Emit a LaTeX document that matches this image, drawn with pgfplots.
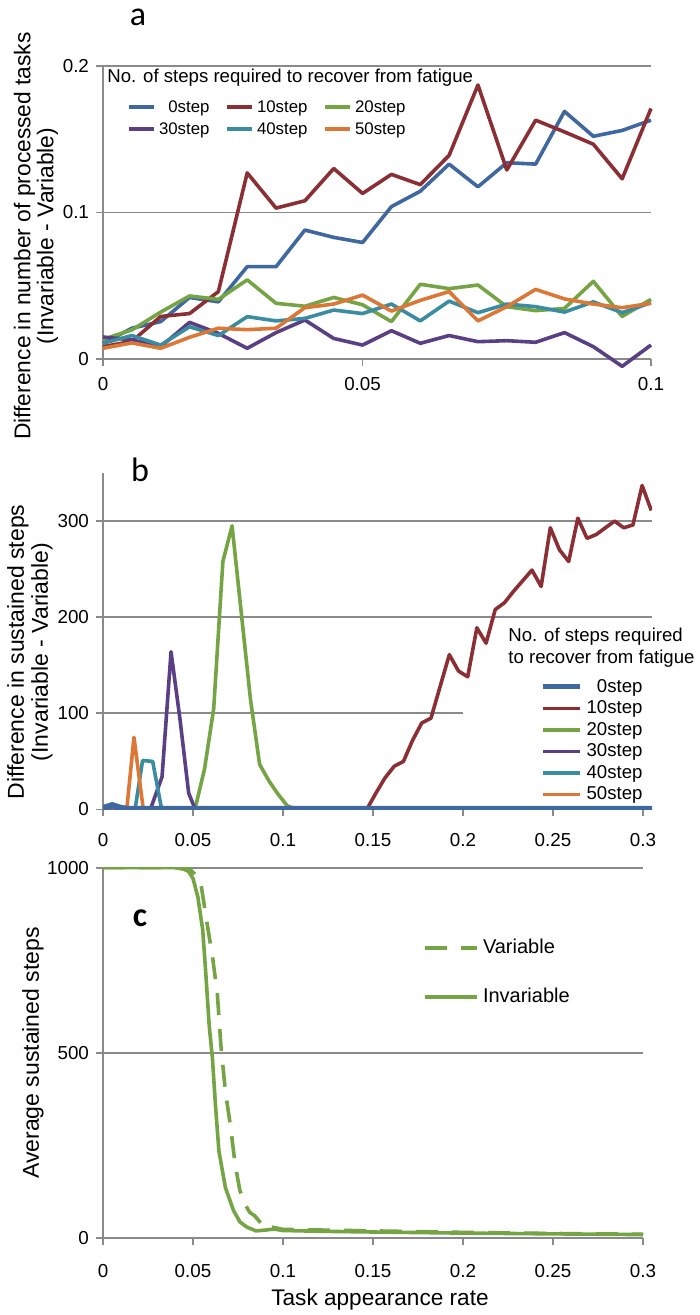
\documentclass[border=0pt]{standalone}
\usepackage{fontspec}
\setmainfont{Liberation Sans}
\newfontfamily\carlito{Carlito}
\usepackage{pgfplots}
\pgfplotsset{compat=1.18}
\definecolor{axgray}{HTML}{8A8A8A}
\definecolor{cA}{HTML}{3F67A0}
\definecolor{cB}{HTML}{8B2F35}
\definecolor{cC}{HTML}{75A444}
\definecolor{cD}{HTML}{5A3F85}
\definecolor{cE}{HTML}{3A8CA0}
\definecolor{cF}{HTML}{DC7736}
\pgfplotsset{
  base/.style={
    scale only axis,
    axis x line*=bottom, axis y line*=left,
    axis line style={-, draw=axgray, line width=0.9pt},
    every tick/.style={draw=axgray, line width=0.9pt},
    major tick length=3.5pt, tick align=outside,
    grid style={draw=axgray, line width=0.9pt},
    ticklabel style={font=\fontsize{9.4}{10}\selectfont, text=black},
    scaled ticks=false,
    /pgf/number format/assume math mode=true,
    legend cell align=right,
  },
  ser/.style={#1, line width=1.8pt, line join=round},
}
\begin{document}
\begin{tikzpicture}
\path[use as bounding box] (0,0) rectangle (350pt,657.5pt);

% ---------------- panel a ----------------
\begin{axis}[base, at={(51.5pt,478pt)}, anchor=south west,
  width=274pt, height=146.5pt,
  xmin=0, xmax=19, ymin=0, ymax=0.2,
  xtick={0,9,19}, xticklabels={0,0.05,0.1},
  ytick={0,0.1,0.2}, yticklabels={0,0.1,0.2},
  xticklabel style={yshift=-2pt},
  ymajorgrids, clip=false,
  legend columns=3,
  legend image code/.code={\draw[#1, line cap=butt] (0pt,0pt) -- (12.5pt,0pt);},
  legend style={at={(0.0438,0.822)}, anchor=west, inner sep=0pt, draw=none, fill=none,
    font=\fontsize{8.4}{10}\selectfont, row sep=0pt,
    nodes={inner sep=0pt, text height=8pt, text depth=2.85pt},
    /tikz/every odd column/.append style={column sep=1.5pt},
    /tikz/every even column/.append style={column sep=8pt}},
]
\addplot[ser=cA] coordinates {(0,0.0107)(1,0.021)(2,0.0255)(3,0.042)(4,0.039)(5,0.063)(6,0.063)(7,0.088)(8,0.083)(9,0.0795)(10,0.104)(11,0.1145)(12,0.133)(13,0.1175)(14,0.134)(15,0.133)(16,0.169)(17,0.152)(18,0.156)(19,0.163)};
\addlegendentry{0step}
\addplot[ser=cB] coordinates {(0,0.0084)(1,0.012)(2,0.029)(3,0.031)(4,0.046)(5,0.127)(6,0.103)(7,0.108)(8,0.130)(9,0.113)(10,0.126)(11,0.119)(12,0.139)(13,0.187)(14,0.129)(15,0.163)(16,0.155)(17,0.1466)(18,0.123)(19,0.171)};
\addlegendentry{10step}
\addplot[ser=cC] coordinates {(0,0.0134)(1,0.0198)(2,0.032)(3,0.043)(4,0.0407)(5,0.054)(6,0.038)(7,0.036)(8,0.042)(9,0.037)(10,0.0255)(11,0.051)(12,0.048)(13,0.0505)(14,0.0357)(15,0.033)(16,0.0345)(17,0.053)(18,0.029)(19,0.0407)};
\addlegendentry{20step}
\addplot[ser=cD] coordinates {(0,0.015)(1,0.013)(2,0.0084)(3,0.025)(4,0.0175)(5,0.0073)(6,0.018)(7,0.0266)(8,0.014)(9,0.0095)(10,0.0193)(11,0.0107)(12,0.016)(13,0.0118)(14,0.0125)(15,0.0114)(16,0.018)(17,0.0084)(18,-0.005)(19,0.0095)};
\addlegendentry{30step}
\addplot[ser=cE] coordinates {(0,0.0107)(1,0.016)(2,0.0095)(3,0.022)(4,0.016)(5,0.0289)(6,0.026)(7,0.0277)(8,0.0334)(9,0.031)(10,0.0375)(11,0.026)(12,0.0395)(13,0.0316)(14,0.0375)(15,0.0357)(16,0.032)(17,0.039)(18,0.0316)(19,0.0384)};
\addlegendentry{40step}
\addplot[ser=cF] coordinates {(0,0.0073)(1,0.011)(2,0.0073)(3,0.0148)(4,0.021)(5,0.020)(6,0.021)(7,0.035)(8,0.0375)(9,0.0436)(10,0.0327)(11,0.040)(12,0.046)(13,0.026)(14,0.0357)(15,0.0475)(16,0.041)(17,0.0375)(18,0.035)(19,0.038)};
\addlegendentry{50step}
\end{axis}
\node[anchor=west, inner sep=0pt, font=\fontsize{9.3}{10}\selectfont] at (53.5pt,618.5pt) {No. of steps required to recover from fatigue};
\node[rotate=90, align=center, font=\fontsize{11.4}{11.5}\selectfont] at (18pt,539.5pt) {Difference in number of processed tasks\\(Invariable - Variable)};
\node[anchor=base, inner sep=0pt, font=\carlito\fontsize{17}{17}\selectfont] at (69pt,644.5pt) {a};

% ---------------- panel b ----------------
\begin{axis}[base, at={(51.5pt,252.75pt)}, anchor=south west,
  width=274.5pt, height=168.25pt,
  xmin=0, xmax=0.305, ymin=0, ymax=350,
  xtick={0,0.05,0.1,0.15,0.2,0.25,0.3}, xticklabels={0,0.05,0.1,0.15,0.2,0.25,0.3},
  ytick={0,100,200,300}, yticklabels={0,100,200,300},
  xticklabel style={yshift=-5pt},
  legend image code/.code={\draw[#1, line cap=butt] (0pt,0pt) -- (18.5pt,0pt);},
  legend style={at={(0.796,0.2048)}, anchor=west, inner sep=0pt, draw=none, fill=none,
    font=\fontsize{9.3}{10}\selectfont, row sep=0pt,
    nodes={inner sep=0pt, text height=8pt, text depth=2.75pt},
    /tikz/every odd column/.append style={column sep=2pt}},
]
\draw[draw=axgray, line width=0.9pt] (axis cs:0,100) -- (axis cs:0.2,100);
\draw[draw=axgray, line width=0.9pt] (axis cs:0,200) -- (axis cs:0.305,200);
\draw[draw=axgray, line width=0.9pt] (axis cs:0,300) -- (axis cs:0.305,300);
\addlegendimage{cA, line width=2.6pt}
\addlegendentry{0step}
\addplot[ser=cB] coordinates {(0,0)(0.1414,0)(0.1465,0)(0.1516,17)(0.1567,33)(0.1618,45)(0.1669,50)(0.172,72)(0.1771,90)(0.1822,95)(0.1873,128)(0.1924,161)(0.1975,144)(0.2026,138)(0.2077,189)(0.2128,173)(0.2179,208)(0.223,215)(0.2281,227)(0.2332,238)(0.2383,249)(0.2434,232)(0.2485,293)(0.2536,270)(0.2587,258)(0.2638,303)(0.2689,282)(0.274,286)(0.2791,293)(0.2842,300)(0.2893,293)(0.2944,296)(0.2995,337)(0.3046,311)};
\addlegendentry{10step}
\addplot[ser=cC] coordinates {(0,0)(0.0462,0)(0.0513,2)(0.0564,42)(0.0615,105)(0.0666,258)(0.0717,295)(0.0768,205)(0.0819,115)(0.087,47)(0.0921,30)(0.0972,16)(0.1023,4)(0.1074,0)(0.3046,0)};
\addlegendentry{20step}
\addplot[ser=cD] coordinates {(0,0)(0.0263,0)(0.0328,34)(0.0378,164)(0.0427,95)(0.0476,17)(0.0513,0)(0.3046,0)};
\addlegendentry{30step}
\addplot[ser=cE] coordinates {(0,0)(0.0178,0)(0.022,51)(0.0276,50)(0.0326,0)(0.3046,0)};
\addlegendentry{40step}
\addplot[ser=cF] coordinates {(0,0)(0.0132,0)(0.0172,75)(0.0224,0)(0.3046,0)};
\addlegendentry{50step}
\addplot[cA, line width=3.5pt, line cap=round, forget plot] coordinates {(0,1)(0.0051,4)(0.0102,1)(0.0153,0)(0.3046,0)};
\end{axis}
\node[anchor=west, inner sep=0pt, align=left, font=\fontsize{9.3}{10.8}\selectfont] at (254pt,333.75pt) {No. of steps required\\to recover from fatigue};
\node[rotate=90, align=center, font=\fontsize{11.5}{12}\selectfont] at (15pt,331.5pt) {Difference in sustained steps\\(Invariable - Variable)};
\node[anchor=base, inner sep=0pt, font=\carlito\fontsize{17}{17}\selectfont] at (70pt,416.7pt) {b};

% ---------------- panel c ----------------
\begin{axis}[base, at={(51.5pt,38.35pt)}, anchor=south west,
  width=270pt, height=185.3pt,
  xmin=0, xmax=0.3, ymin=0, ymax=1000,
  xtick={0,0.05,0.1,0.15,0.2,0.25,0.3}, xticklabels={0,0.05,0.1,0.15,0.2,0.25,0.3},
  ytick={0,500,1000}, yticklabels={0,500,1000},
  xticklabel style={yshift=-6pt},
  ymajorgrids,
  legend image code/.code={\draw[#1, line cap=butt] (0pt,0pt) -- (26pt,0pt);},
  legend style={at={(0.5926,0.717)}, anchor=west, inner sep=0pt, draw=none, fill=none,
    font=\fontsize{10}{11}\selectfont, row sep=13pt,
    nodes={inner sep=0pt, text height=8.5pt, text depth=3pt},
    /tikz/every odd column/.append style={column sep=2pt}},
  legend cell align=left,
]
\addplot[ser=cC, dash pattern=on 11pt off 7pt] coordinates {(0,1000)(0.045,1000)(0.048,997)(0.0518,979)(0.0545,953)(0.0581,841)(0.0608,761)(0.0635,661)(0.0655,520)(0.068,396)(0.0707,307)(0.0734,200)(0.076,130)(0.0788,93)(0.0815,70)(0.0842,61)(0.09,28)(0.094,30)(0.1,24)(0.15,20)(0.2,16)(0.25,13)(0.3,11)};
\addlegendentry{Variable}
\addplot[ser=cC] coordinates {(0,1000)(0.04,1000)(0.045,996)(0.0475,990)(0.05,971)(0.0527,921)(0.0554,832)(0.0572,708)(0.059,574)(0.0608,485)(0.0626,351)(0.0644,235)(0.068,137)(0.0725,75)(0.0761,44)(0.08,30)(0.085,20)(0.09,22)(0.095,25)(0.1,21)(0.12,19)(0.15,17)(0.2,14)(0.25,12)(0.3,10)};
\addlegendentry{Invariable}
\end{axis}
\node[rotate=90, font=\fontsize{11.5}{12}\selectfont] at (16.5pt,131pt) {Average sustained steps};
\node[anchor=base, font=\fontsize{11.3}{12}\selectfont] at (190pt,5pt) {Task appearance rate};
\node[anchor=base, inner sep=0pt, font=\carlito\bfseries\fontsize{17}{17}\selectfont] at (70pt,194.2pt) {c};
\end{tikzpicture}
\end{document}
